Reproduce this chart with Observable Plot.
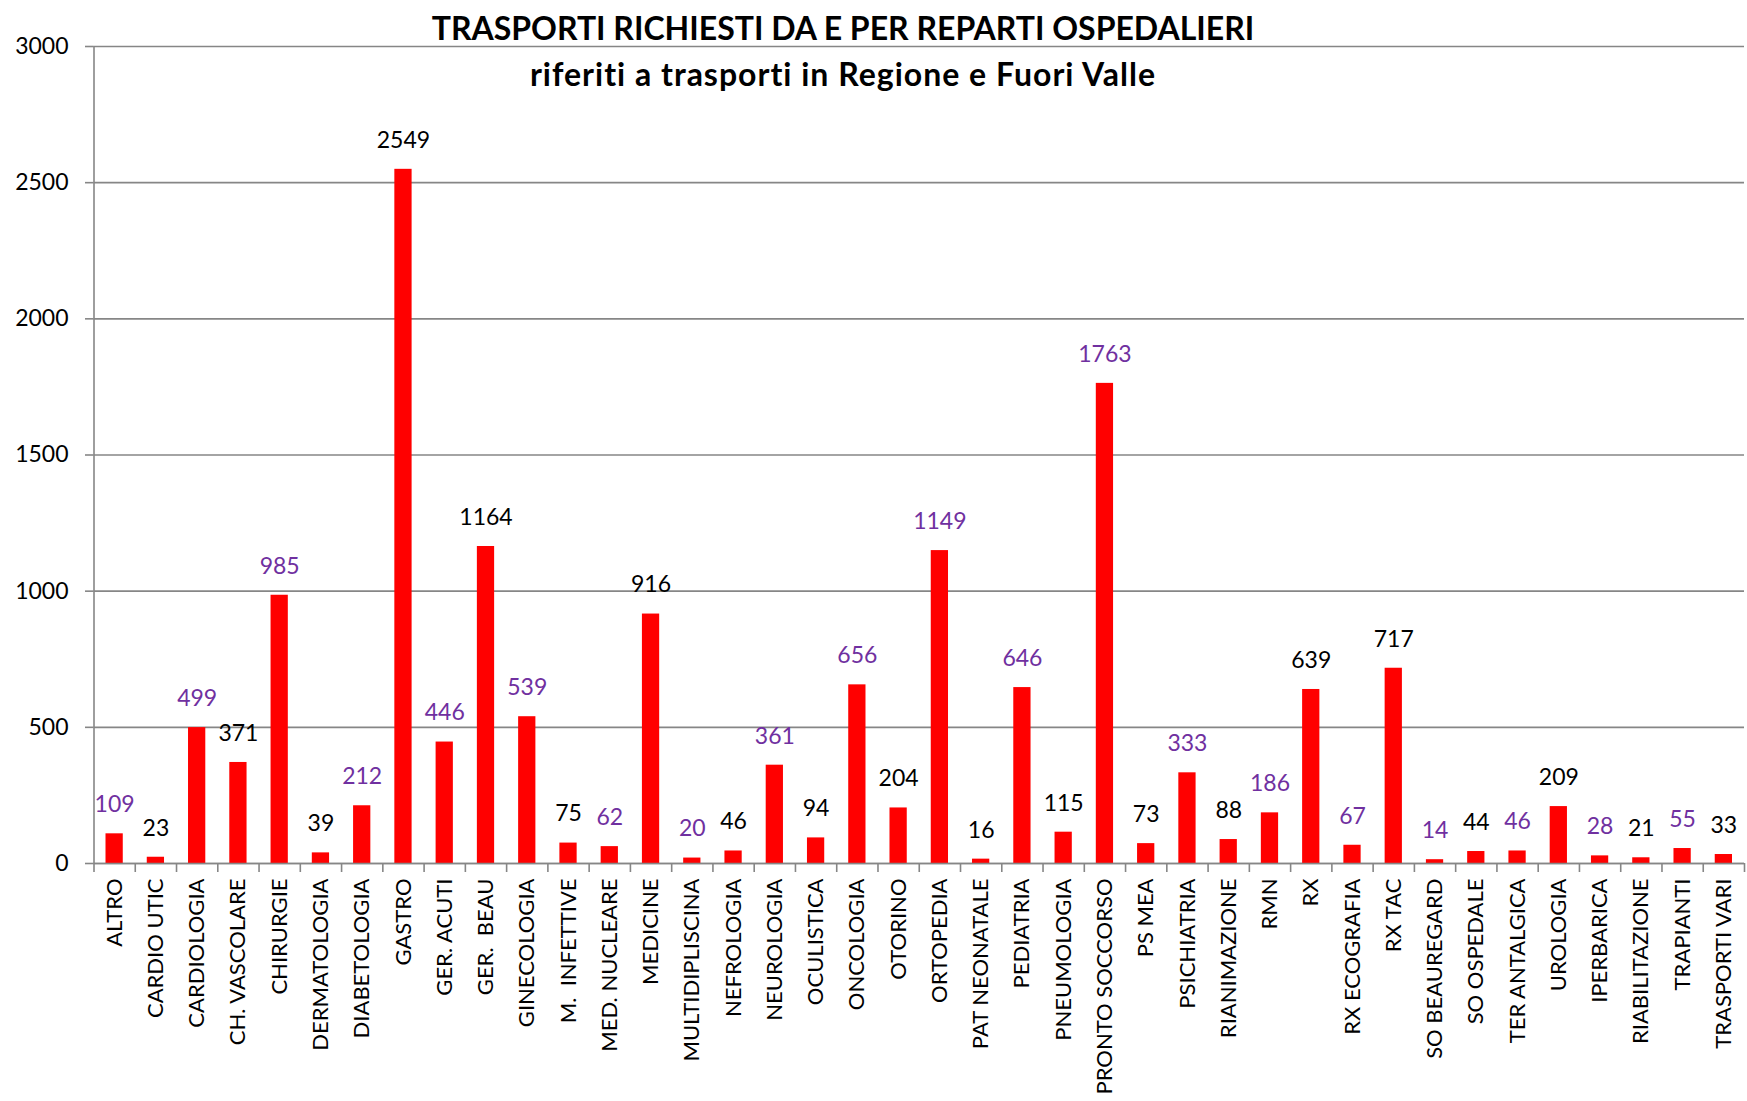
<!DOCTYPE html>
<html>
<head>
<meta charset="utf-8">
<script src="https://cdn.jsdelivr.net/npm/d3@7"></script>
<script src="https://cdn.jsdelivr.net/npm/@observablehq/plot@0.6"></script>
<style>
  html, body { margin: 0; padding: 0; background: #fff; }
  #wrap { position: relative; width: 1747px; height: 1101px; font-family: Lato, "Open Sans", sans-serif; }
  #title { position: absolute; left: 0; width: 1686px; top: 5px; text-align: center; font-weight: bold; font-size: 32px; line-height: 46px; color: #000; }
  #title .l2 { letter-spacing: 1px; }
</style>
</head>
<body>
<div id="wrap">
  <div id="chart"></div>
  <div id="title">TRASPORTI RICHIESTI DA E PER REPARTI OSPEDALIERI<br><span class="l2">riferiti a trasporti in Regione e Fuori Valle</span></div>
</div>
<script>
const categories = ["ALTRO","CARDIO UTIC","CARDIOLOGIA","CH. VASCOLARE","CHIRURGIE","DERMATOLOGIA","DIABETOLOGIA","GASTRO","GER. ACUTI","GER.  BEAU","GINECOLOGIA","M.  INFETTIVE","MED. NUCLEARE","MEDICINE","MULTIDIPLISCINA","NEFROLOGIA","NEUROLOGIA","OCULISTICA","ONCOLOGIA","OTORINO","ORTOPEDIA","PAT NEONATALE","PEDIATRIA","PNEUMOLOGIA","PRONTO SOCCORSO","PS MEA","PSICHIATRIA","RIANIMAZIONE","RMN","RX","RX ECOGRAFIA","RX TAC","SO BEAUREGARD","SO OSPEDALE","TER ANTALGICA","UROLOGIA","IPERBARICA","RIABILITAZIONE","TRAPIANTI","TRASPORTI VARI"];
const values = [109,23,499,371,985,39,212,2549,446,1164,539,75,62,916,20,46,361,94,656,204,1149,16,646,115,1763,73,333,88,186,639,67,717,14,44,46,209,28,21,55,33];
const labelColors = ["#7030a0","#000000"];
const yTicks = [0,500,1000,1500,2000,2500,3000];

const data = categories.map((c, i) => ({cat: c, value: values[i], color: labelColors[i % 2]}));

const W = 1747, H = 1101, mL = 93.5, mR = 3, mT = 46, mB = 238;
const bw = (W - mL - mR) / categories.length;
const gray = "#868686";

const chart = Plot.plot({
  width: W, height: H,
  marginLeft: mL, marginRight: mR, marginTop: mT, marginBottom: mB,
  style: {fontFamily: "Lato, 'Open Sans', sans-serif", fontSize: "23px", color: "#000", background: "#fff"},
  x: {domain: categories, padding: 0, round: false, label: null},
  y: {domain: [0, 3000], label: null},
  marks: [
    Plot.gridY(yTicks, {stroke: gray, strokeOpacity: 1, strokeWidth: 1.6}),
    Plot.axisY(yTicks, {tickSize: 8.5, tickPadding: 17, tickFormat: d => String(d), stroke: gray, strokeWidth: 1.6, fontSize: 23, fill: "#000", label: null}),
    Plot.axisX({tickSize: 0, tickPadding: 15, tickRotate: -90, fontSize: 22, fill: "#000", label: null}),
    Plot.barY(data, {x: "cat", y: "value", fill: "#ff0000", insetLeft: 12, insetRight: 12}),
    Plot.ruleY([0], {stroke: gray, strokeWidth: 1.6}),
    Plot.ruleX([categories[0]], {dx: -bw / 2, stroke: gray, strokeWidth: 1.6}),
    Plot.ruleX(categories, {x: d => d, dx: -bw / 2, y1: 0, y2: 0, insetBottom: -9, stroke: gray, strokeWidth: 1.6}),
    Plot.ruleX([categories[categories.length - 1]], {dx: bw / 2, y1: 0, y2: 0, insetBottom: -9, stroke: gray, strokeWidth: 1.6}),
    Plot.text(data, {x: "cat", y: "value", text: d => String(d.value), fill: "color", dy: -29, fontSize: 23})
  ]
});
document.getElementById("chart").appendChild(chart);
</script>
</body>
</html>
